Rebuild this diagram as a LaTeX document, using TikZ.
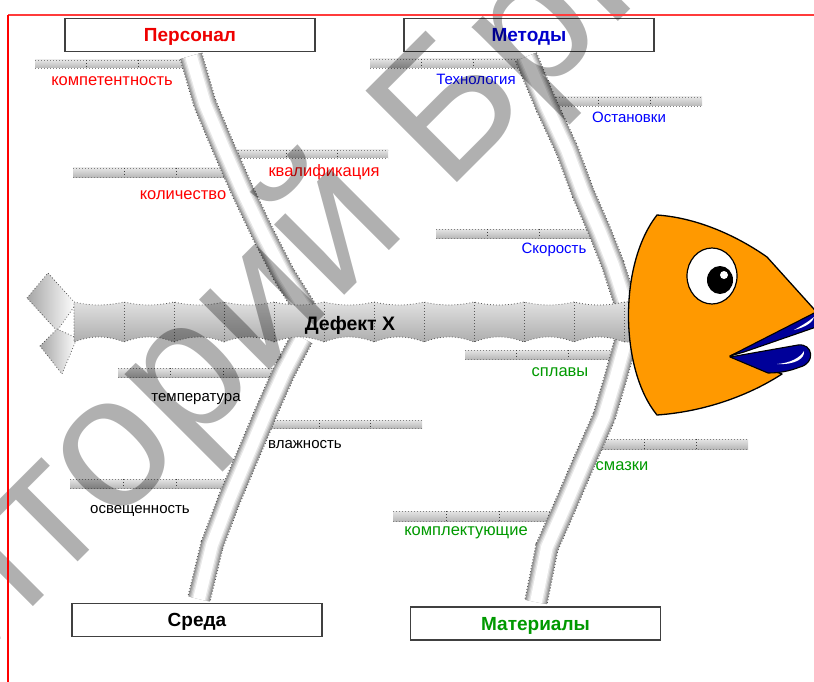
\documentclass[tikz,border=0pt]{standalone}
\usepackage{fontspec}
\setmainfont{Liberation Sans}
\usetikzlibrary{calc}
\definecolor{headorange}{HTML}{FF9900}
\definecolor{lipblue}{HTML}{000099}
\definecolor{catred}{HTML}{EE0000}
\definecolor{catblue}{HTML}{0000CC}
\definecolor{catgreen}{HTML}{009900}
\definecolor{lblred}{HTML}{FF0000}
\definecolor{lblblue}{HTML}{0000FF}
\definecolor{lblgreen}{HTML}{009900}
\definecolor{framered}{HTML}{FF3B3B}

% shaded bone tube along a polyline, dotted edges, light from the left
\newcommand{\bonetube}[1]{%
  \draw[black!70, line width=23.6pt, dash pattern=on 1pt off 2pt] #1;
  \foreach \k/\t in {0/42,1/30,2/19,3/9,4/0}{%
    \pgfmathsetmacro{\bw}{22-2.6*\k}%
    \pgfmathsetmacro{\bs}{-0.9*\k}%
    \draw[line width=\bw pt, color=black!\t, xshift=\bs pt] #1;
  }}

% short horizontal rib with three segments
\newcommand{\rib}[4]{%
  \shade[top color=black!10, middle color=white, bottom color=black!28] (#1,#2) rectangle (#3,#4);
  \draw[dots, black!50] (#1,#2) -- (#3,#2) (#1,#4) -- (#3,#4);
  \draw[dots, black!75] ({#1+(#3-#1)/3},#2) -- ({#1+(#3-#1)/3},#4)
        ({#1+2*(#3-#1)/3},#2) -- ({#1+2*(#3-#1)/3},#4);}

\begin{document}
\begin{tikzpicture}[x=1pt,y=-1pt,
  dots/.style={black!65, line width=0.8pt, dash pattern=on 0.8pt off 2.2pt},
  catbox/.style={draw=black!75, line width=1.2pt, fill=white, minimum width=250pt,
    minimum height=33pt, inner sep=0pt, text height=13.5pt, text depth=0pt,
    font=\fontsize{19}{21}\selectfont\bfseries},
  lbl/.style={anchor=base, inner sep=0pt, font=\fontsize{16.5}{18}\selectfont},
  lblsm/.style={anchor=base, inner sep=0pt, font=\fontsize{15}{17}\selectfont},
]
\useasboundingbox (0,0) rectangle (814,682);
\clip (0,0) rectangle (814,682);

% ribs
\rib{35}{60}{190}{68}
\rib{235}{150}{388}{158}
\rib{73}{168}{228}{177}
\rib{370}{59}{525}{68}
\rib{547}{97}{702}{106}
\rib{436}{229}{591}{238}
\rib{465}{350}{620}{359}
\rib{593}{439}{748}{449}
\rib{393}{511}{552}{521}
\rib{118}{368}{276}{377}
\rib{268}{420}{422}{428}
\rib{70}{479}{229}{488}

% joints of the four main bones
\foreach \n/\x/\y in {0/191/56,1/205/104,2/224/149,3/242/190,4/262/232,5/284/275,6/306/310}
  \coordinate (ul\n) at (\x,\y);
\foreach \n/\x/\y in {0/526/57,1/547/107,2/567/150,3/583/193,4/600/232,5/613/265,6/625/302}
  \coordinate (ur\n) at (\x,\y);
\foreach \n/\x/\y in {0/302/338,1/284/372,2/267/410,3/248/455,4/229/500,5/212/545,6/199/599}
  \coordinate (ll\n) at (\x,\y);
\foreach \n/\x/\y in {0/626/340,1/615/380,2/604/417,3/584/462,4/566/504,5/547/547,6/536/602}
  \coordinate (lr\n) at (\x,\y);

\bonetube{(ul0)--(ul1)--(ul2)--(ul3)--(ul4)--(ul5)--(ul6)}
\bonetube{(ur0)--(ur1)--(ur2)--(ur3)--(ur4)--(ur5)--(ur6)}
\bonetube{(ll0)--(ll1)--(ll2)--(ll3)--(ll4)--(ll5)--(ll6)}
\bonetube{(lr0)--(lr1)--(lr2)--(lr3)--(lr4)--(lr5)--(lr6)}
\foreach \b in {ul,ur,ll,lr}
  \foreach \i [evaluate=\i as \j using int(\i+1)] in {1,...,5}
    \draw[dots] ($(\b\i)!11.5pt!90:(\b\j)$) -- ($(\b\i)!11.5pt!-90:(\b\j)$);

% tail fins
\draw[dots, left color=black!35, right color=white] (27,298) -- (48,273) -- (76,304) -- (57,331) -- cycle;
\draw[dots, left color=black!35, right color=white] (40,346) -- (57,329) -- (77,338) -- (62,374) -- cycle;

% spine
\draw[dots, top color=black!12, middle color=white, bottom color=black!32]
  (74,302) \foreach \x in {74,124,...,574} { .. controls (\x+17,306) and (\x+33,306) .. (\x+50,302) }
  -- (636,302) -- (636,342) -- (624,342)
  \foreach \x in {624,574,...,124} { .. controls (\x-17,335.3) and (\x-33,335.3) .. (\x-50,342) }
  -- cycle;
\foreach \x in {124,174,...,624}
  \draw[dots] (\x,302) -- (\x,342);
\node[font=\fontsize{19.5}{21}\selectfont\bfseries, anchor=base, inner sep=0pt] (effect) at (350,330) {Дефект X};

% head
\filldraw[fill=headorange, draw=black, line width=1.3pt, line join=round]
  (657,215) .. controls (700,218) and (740,238) .. (767,257) -- (822,318) -- (730,356) -- (782,374)
  .. controls (745,398) and (700,412) .. (657,415)
  .. controls (620,370) and (618,265) .. (657,215) -- cycle;
\filldraw[fill=white, draw=black, line width=1.2pt] (712,276) ellipse [x radius=25, y radius=28];
\fill[black] (720,280) ellipse [x radius=13, y radius=14];
\fill[white] (724,275) circle [radius=4];
\filldraw[fill=lipblue, draw=black, line width=1.1pt, line join=round]
  (730,356) -- (822,309) -- (822,325) -- (744,352) -- cycle;
\filldraw[fill=lipblue, draw=black, line width=1.1pt, line join=round]
  (730,357) -- (798,345) .. controls (813,343) and (816,363) .. (800,367)
  .. controls (790,371) and (780,373) .. (768,373) -- cycle;
\fill[white] (777,364) .. controls (790,363) and (800,358) .. (804,351)
  .. controls (805,358) and (796,365) .. (777,364) -- cycle;
\fill[white] (794,330) .. controls (801,326) and (808,322) .. (814,317)
  .. controls (813,322) and (806,327) .. (794,330) -- cycle;

% category boxes
\node[catbox, text=catred] (personnel) at (190,35) {Персонал};
\node[catbox, text=catblue] (methods) at (529,35) {Методы};
\node[catbox, text=black] (environment) at (197,620) {Среда};
\node[catbox, text=catgreen] (materials) at (535.5,623.5) {Материалы};

% cause labels
\node[lbl, text=lblred] (c1) at (112,86) {компетентность};
\node[lbl, text=lblred] (c2) at (183,199) {количество};
\node[lbl, text=lblred] (c3) at (324,176) {квалификация};
\node[lblsm, text=lblblue] (m1) at (476,85) {Технология};
\node[lblsm, text=lblblue] (m2) at (629,123) {Остановки};
\node[lblsm, text=lblblue] (m3) at (554,253) {Скорость};
\node[lbl, text=lblgreen] (g1) at (560,376) {сплавы};
\node[lbl, text=lblgreen] (g2) at (622,470) {смазки};
\node[lbl, text=lblgreen] (g3) at (466,535) {комплектующие};
\node[lblsm] (e1) at (196,401) {температура};
\node[lblsm] (e2) at (305,448) {влажность};
\node[lblsm] (e3) at (140,513) {освещенность};

% repository stamp
\node[rotate=45, anchor=base west, inner sep=0pt, text=black, opacity=0.31,
  font=\fontsize{188}{188}\selectfont] (stamp) at (446,194) {\llap{Репозиторий }БрГУ};

% page frame
\draw[framered, line width=1.2pt] (8,15) -- (814,15);
\draw[red, line width=2pt] (8,15) -- (8,682);
\end{tikzpicture}
\end{document}
